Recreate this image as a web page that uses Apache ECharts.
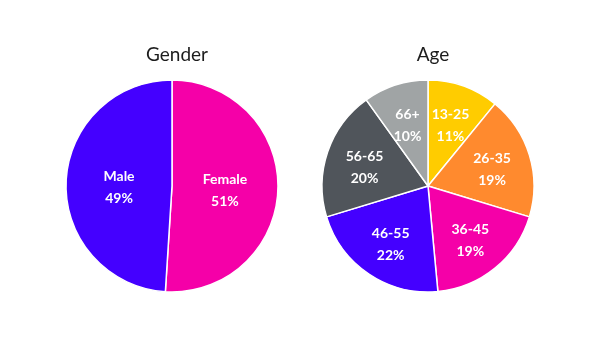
<!DOCTYPE html>
<html>
<head>
<meta charset="utf-8">
<script src="https://cdn.jsdelivr.net/npm/echarts@6/dist/echarts.min.js"></script>
<style>html,body{margin:0;padding:0;background:#fff;}#c{width:606px;height:340px;}</style>
</head>
<body>
<div id="c"></div>
<script>
const genderCategories = ['Female', 'Male'];
const genderValues = [51, 49];
const genderColors = ['#f500a8', '#4400ff'];

const ageCategories = ['13-25', '26-35', '36-45', '46-55', '56-65', '66+'];
const ageValues = [11, 19, 19, 22, 20, 10];
const ageColors = ['#ffcc00', '#ff8a2e', '#f500a8', '#4400ff', '#50555b', '#a0a4a5'];

const FONT = 'Lato, "Noto Sans", sans-serif';

function mkData(cats, vals, colors, transparent) {
  return cats.map((c, i) => ({
    name: c, value: vals[i],
    itemStyle: { color: transparent ? 'rgba(0,0,0,0)' : colors[i] }
  }));
}
const labelStyle = {
  show: true,
  position: 'inside',
  color: '#ffffff',
  fontFamily: FONT,
  fontSize: 14,
  fontWeight: 'bold',
  lineHeight: 22,
  offset: [0, 3],
  formatter: p => p.name + '\n' + p.value + '%'
};

const chart = echarts.init(document.getElementById('c'), null, { renderer: 'canvas' });
chart.setOption({
  animation: false,
  backgroundColor: '#ffffff',
  title: [
    { text: 'Gender', left: 172, top: 40, textAlign: 'center',
      textStyle: { fontFamily: FONT, fontSize: 19, fontWeight: 'normal', color: '#1c1c1c' } },
    { text: 'Age', left: 428, top: 40, textAlign: 'center',
      textStyle: { fontFamily: FONT, fontSize: 19, fontWeight: 'normal', color: '#1c1c1c' } }
  ],
  series: [
    {
      type: 'pie', center: [172, 186], radius: [0, 106], startAngle: 90, clockwise: true,
      data: mkData(genderCategories, genderValues, genderColors, false),
      itemStyle: { borderColor: '#ffffff', borderWidth: 1.5 },
      label: { show: false }, labelLine: { show: false }, silent: true
    },
    {
      type: 'pie', center: [172, 186], radius: [0, 100], startAngle: 90, clockwise: true,
      data: mkData(genderCategories, genderValues, genderColors, true),
      itemStyle: { borderWidth: 0 },
      label: labelStyle, labelLine: { show: false }, silent: true, z: 5
    },
    {
      type: 'pie', center: [428, 186], radius: [0, 106], startAngle: 90, clockwise: true,
      data: mkData(ageCategories, ageValues, ageColors, false),
      itemStyle: { borderColor: '#ffffff', borderWidth: 1.5 },
      label: { show: false }, labelLine: { show: false }, silent: true
    },
    {
      type: 'pie', center: [428, 186], radius: [22, 106], startAngle: 90, clockwise: true,
      data: mkData(ageCategories, ageValues, ageColors, true),
      itemStyle: { borderWidth: 0 },
      label: labelStyle, labelLine: { show: false }, silent: true, z: 5
    }
  ]
});
</script>
</body>
</html>
